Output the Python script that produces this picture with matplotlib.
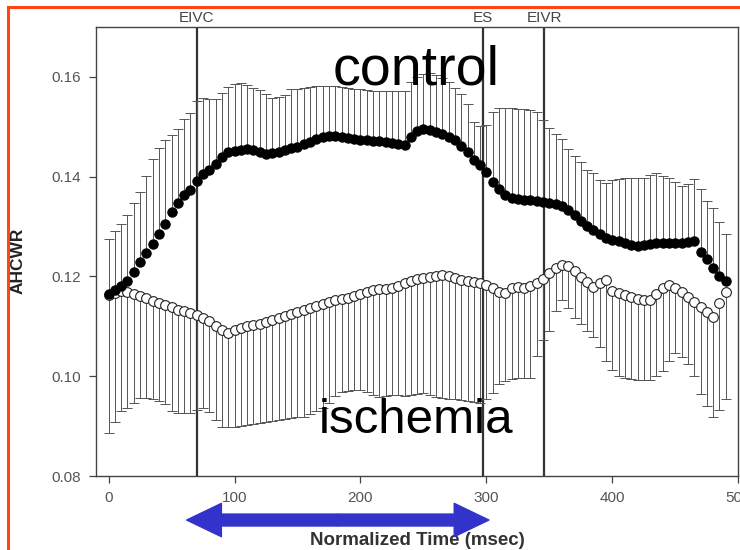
import numpy as np
import matplotlib.pyplot as plt
from matplotlib.patches import Rectangle

plt.rcParams['font.family'] = ['Liberation Sans', 'DejaVu Sans']

# normalized time, one sample every 5 ms
time = np.arange(0, 495, 5)

control_mean = [
    0.1165, 0.1172, 0.1180, 0.1190, 0.1208, 0.1228, 0.1248, 0.1266, 0.1285, 0.1305,
    0.1330, 0.1348, 0.1364, 0.1374, 0.1392, 0.1405, 0.1414, 0.1426, 0.1440, 0.1449,
    0.1452, 0.1454, 0.1455, 0.1454, 0.1450, 0.1446, 0.1447, 0.1450, 0.1454, 0.1457,
    0.1460, 0.1465, 0.1470, 0.1475, 0.1479, 0.1482, 0.1481, 0.1479, 0.1477, 0.1475,
    0.1474, 0.1473, 0.1472, 0.1471, 0.1470, 0.1468, 0.1466, 0.1464, 0.1480, 0.1492,
    0.1496, 0.1494, 0.1490, 0.1486, 0.1480, 0.1474, 0.1462, 0.1450, 0.1434, 0.1424,
    0.1410, 0.1390, 0.1376, 0.1364, 0.1358, 0.1356, 0.1354, 0.1353, 0.1352, 0.1350,
    0.1348, 0.1346, 0.1342, 0.1334, 0.1324, 0.1312, 0.1302, 0.1294, 0.1286, 0.1278,
    0.1274, 0.1271, 0.1268, 0.1264, 0.1262, 0.1264, 0.1266, 0.1267, 0.1267, 0.1268,
    0.1268, 0.1268, 0.1270, 0.1272, 0.1250, 0.1234, 0.1216, 0.1200, 0.1190]

control_upper = [
    0.1276, 0.1292, 0.1306, 0.1324, 0.1348, 0.1370, 0.1402, 0.1436, 0.1458, 0.1474,
    0.1484, 0.1496, 0.1516, 0.1528, 0.1552, 0.1558, 0.1556, 0.1556, 0.1568, 0.1580,
    0.1586, 0.1588, 0.1584, 0.1578, 0.1574, 0.1566, 0.1558, 0.1560, 0.1564, 0.1576,
    0.1576, 0.1578, 0.1580, 0.1582, 0.1582, 0.1582, 0.1582, 0.1580, 0.1578, 0.1576,
    0.1576, 0.1574, 0.1572, 0.1572, 0.1572, 0.1572, 0.1572, 0.1572, 0.1590, 0.1600,
    0.1606, 0.1608, 0.1604, 0.1598, 0.1590, 0.1578, 0.1566, 0.1546, 0.1510, 0.1502,
    0.1504, 0.1530, 0.1538, 0.1538, 0.1538, 0.1536, 0.1536, 0.1534, 0.1530, 0.1514,
    0.1498, 0.1486, 0.1476, 0.1456, 0.1442, 0.1430, 0.1414, 0.1408, 0.1394, 0.1388,
    0.1394, 0.1396, 0.1398, 0.1398, 0.1398, 0.1398, 0.1404, 0.1408, 0.1402, 0.1398,
    0.1390, 0.1382, 0.1386, 0.1396, 0.1376, 0.1352, 0.1338, 0.1310, 0.1286]

ischemia_mean = [
    0.1162, 0.1166, 0.1170, 0.1168, 0.1164, 0.1160, 0.1156, 0.1151, 0.1147, 0.1142,
    0.1138, 0.1133, 0.1130, 0.1126, 0.1122, 0.1116, 0.1110, 0.1100, 0.1092, 0.1086,
    0.1092, 0.1097, 0.1100, 0.1102, 0.1105, 0.1108, 0.1112, 0.1116, 0.1120, 0.1124,
    0.1128, 0.1132, 0.1137, 0.1141, 0.1144, 0.1148, 0.1152, 0.1155, 0.1157, 0.1160,
    0.1164, 0.1168, 0.1172, 0.1174, 0.1175, 0.1177, 0.1180, 0.1186, 0.1190, 0.1194,
    0.1196, 0.1198, 0.1200, 0.1202, 0.1200, 0.1196, 0.1192, 0.1190, 0.1188, 0.1186,
    0.1182, 0.1176, 0.1168, 0.1166, 0.1176, 0.1178, 0.1176, 0.1180, 0.1186, 0.1194,
    0.1206, 0.1216, 0.1222, 0.1220, 0.1210, 0.1198, 0.1188, 0.1178, 0.1186, 0.1192,
    0.1170, 0.1166, 0.1162, 0.1158, 0.1155, 0.1152, 0.1152, 0.1164, 0.1176, 0.1182,
    0.1176, 0.1168, 0.1158, 0.1148, 0.1138, 0.1128, 0.1118, 0.1146, 0.1168]

ischemia_lower = [
    0.0886, 0.0908, 0.0930, 0.0936, 0.0946, 0.0956, 0.0956, 0.0954, 0.0950, 0.0944,
    0.0930, 0.0926, 0.0926, 0.0926, 0.0932, 0.0936, 0.0928, 0.0912, 0.0898, 0.0898,
    0.0898, 0.0900, 0.0902, 0.0904, 0.0906, 0.0908, 0.0910, 0.0912, 0.0914, 0.0916,
    0.0918, 0.0918, 0.0924, 0.0930, 0.0936, 0.0946, 0.0960, 0.0968, 0.0970, 0.0972,
    0.0972, 0.0968, 0.0962, 0.0958, 0.0960, 0.0962, 0.0962, 0.0960, 0.0962, 0.0964,
    0.0966, 0.0962, 0.0958, 0.0956, 0.0954, 0.0954, 0.0952, 0.0950, 0.0948, 0.0946,
    0.0954, 0.0966, 0.0984, 0.0990, 0.0994, 0.0996, 0.0996, 0.0996, 0.1040, 0.1072,
    0.1090, 0.1130, 0.1152, 0.1136, 0.1116, 0.1104, 0.1090, 0.1078, 0.1058, 0.1030,
    0.1012, 0.1000, 0.0996, 0.0994, 0.0992, 0.0992, 0.0992, 0.1000, 0.1010, 0.1030,
    0.1046, 0.1038, 0.1024, 0.1000, 0.0964, 0.0940, 0.0918, 0.0932, 0.0954]

events = [70, 297, 346]
event_labels = ['EIVC', 'ES', 'EIVR']

control_mean = np.array(control_mean)
ischemia_mean = np.array(ischemia_mean)
zeros = np.zeros(len(time))

fig = plt.figure(figsize=(7.4, 5.5), dpi=100)
ax = fig.add_axes([0.1297, 0.1345, 0.868, 0.8164])

for ev, lab in zip(events, event_labels):
    ax.axvline(ev, color='#333333', lw=1.6, zorder=1)
    ax.text(ev, 1.02, lab, transform=ax.get_xaxis_transform(), ha='center',
            va='center', fontsize=11, color='#444444')

err_style = dict(fmt='none', ecolor='#555555', elinewidth=0.7, capsize=3.5,
                 capthick=0.7, zorder=2)
ax.errorbar(time, ischemia_mean,
            yerr=[ischemia_mean - np.array(ischemia_lower), zeros], **err_style)
ax.errorbar(time, control_mean,
            yerr=[zeros, np.array(control_upper) - control_mean], **err_style)

ax.plot(time, ischemia_mean, 'o', ms=7, mfc='white', mec='#222222', mew=0.8,
        zorder=3)
ax.plot(time, control_mean, 'o', ms=6.5, mfc='black', mec='black', zorder=4)

ax.set_xlim(-10, 500)
ax.set_ylim(0.08, 0.17)
ax.set_xticks([0, 100, 200, 300, 400, 500])
ax.set_yticks([0.08, 0.10, 0.12, 0.14, 0.16])
ax.set_yticklabels(['0.08', '0.10', '0.12', '0.14', '0.16'])
ax.tick_params(labelsize=11, labelcolor='#555555', color='#444444',
               length=5, width=0.9, pad=6)
for sp in ax.spines.values():
    sp.set_color('#444444')
    sp.set_linewidth(1.0)

ax.set_ylabel('AHCWR', fontsize=12.5, fontweight='bold', color='#222222')
ax.yaxis.set_label_coords(-0.109, 0.48)
ax.set_xlabel('Normalized Time (msec)', fontsize=13.5, fontweight='bold',
              color='#333333')
ax.xaxis.set_label_coords(0.5, -0.124)

ax.text(244, 0.1612, 'control', fontsize=40, ha='center', va='center',
        color='black', zorder=6)
ax.text(244, 0.0912, 'ischemia', fontsize=35.5, ha='center', va='center',
        color='black', zorder=6)

# blue double arrow under the axis
arrow_y = -0.098
for tip in (62, 302):
    ax.annotate('', xy=(tip, arrow_y), xytext=(182, arrow_y),
                xycoords=ax.get_xaxis_transform(),
                textcoords=ax.get_xaxis_transform(),
                arrowprops=dict(arrowstyle='simple,head_length=25,head_width=24,tail_width=8.6',
                                color='#3333CC', mutation_scale=1,
                                shrinkA=0, shrinkB=0),
                annotation_clip=False, zorder=10)

# orange-red slide border
fig.patches.append(Rectangle((8 / 740, -0.1), 1.2, 1.1 - 7 / 550,
                             transform=fig.transFigure, fill=False,
                             edgecolor='#FF4515', lw=2.2))

fig.savefig('out.png', dpi=100)
